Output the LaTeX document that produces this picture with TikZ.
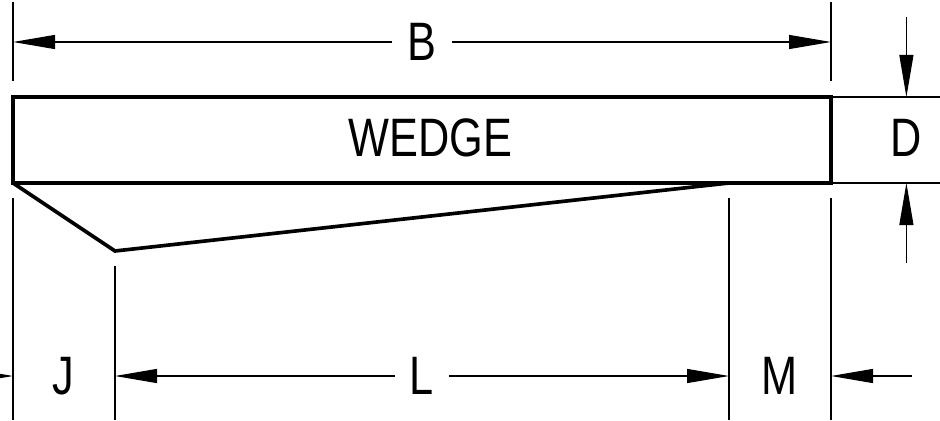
\documentclass[tikz,border=0pt]{standalone}
\usepackage{fontspec}
\setmainfont{Liberation Sans}
\usetikzlibrary{arrows.meta}
\newcommand{\dimtext}[1]{\scalebox{0.8}[1]{\fontsize{38.5}{40}\selectfont #1}}

\begin{document}
\begin{tikzpicture}[>={Triangle[length=1.05cm,width=0.35cm]},
  dim/.style={line width=0.85pt},
  body/.style={line width=2.6pt, line join=miter},
  lbl/.style={inner xsep=0.375cm, inner ysep=0pt}]
\useasboundingbox (0,0) rectangle (23.5,10.5);
\clip (0,0) rectangle (23.5,10.5);
%
\node(wedge) at (10.76,7.05) {\dimtext{WEDGE}};
\draw[body] (0.325,5.925) rectangle (20.775,8.075);
\draw[body] (0.325,5.925) -- (2.875,4.225) -- (18.225,5.925);
%
\draw[dim] (0.325,10.45) -- (0.325,8.475);
\draw[dim] (20.775,10.45) -- (20.775,8.475);
\node[lbl](B) at (10.55,9.45) {\dimtext{B}};
\coordinate(bl) at (0.325,9.45);
\coordinate(br) at (20.775,9.45);
\draw[dim,->](B) -- (bl);
\draw[dim,->](B) -- (br);
%
\draw[dim] (20.775,8.075) -- (23.5,8.075);
\draw[dim] (20.775,5.925) -- (23.5,5.925);
\node(D) at (22.66,7.05) {\dimtext{D}};
\coordinate(dt) at (22.66,10.075);
\coordinate(dtop) at (22.66,8.075);
\coordinate(db) at (22.66,3.925);
\coordinate(dbot) at (22.66,5.925);
\draw[dim,->](dt) -- (dtop);
\draw[dim,->](db) -- (dbot);
%
\draw[dim] (0.325,5.55) -- (0.325,0);
\draw[dim] (2.875,3.85) -- (2.875,0);
\draw[dim] (18.225,5.55) -- (18.225,0);
\draw[dim] (20.775,5.55) -- (20.775,0);
%
\node(J) at (1.575,1.1) {\dimtext{J}};
\coordinate(jo) at (-1.5,1.1);
\coordinate(jl) at (0.325,1.1);
\draw[dim,->](jo) -- (jl);
%
\node[lbl](L) at (10.55,1.1) {\dimtext{L}};
\coordinate(ll) at (2.875,1.1);
\coordinate(lr) at (18.225,1.1);
\draw[dim,->](L) -- (ll);
\draw[dim,->](L) -- (lr);
%
\node(M) at (19.5,1.1) {\dimtext{M}};
\coordinate(mo) at (22.8,1.1);
\coordinate(mr) at (20.775,1.1);
\draw[dim,->](mo) -- (mr);
\end{tikzpicture}
\end{document}
